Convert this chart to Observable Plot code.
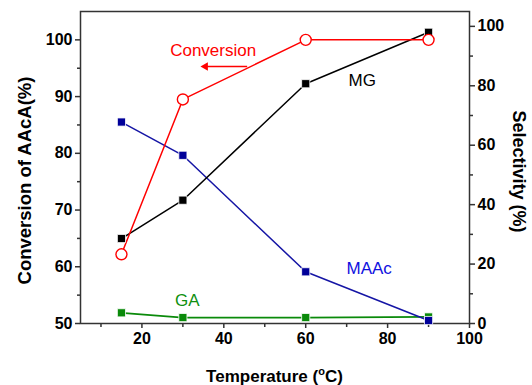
<!DOCTYPE html>
<html><head><meta charset="utf-8">
<script src="https://cdn.jsdelivr.net/npm/d3@7"></script>
<script src="https://cdn.jsdelivr.net/npm/@observablehq/plot@0.6"></script>
<style>body{margin:0;background:#fff} svg{font-family:"Liberation Sans",Arial,sans-serif}</style>
</head><body><div id="chart"></div>
<script>
const temperature = [15, 30, 60, 90];
const conversion = [62.2, 89.5, 100, 100];
const mgSel = [28.6, 41.5, 80.7, 98.0];
const maacSel = [67.8, 56.6, 17.4, 1.0];
const gaSel = [3.6, 2.0, 2.0, 2.2];
const xTicks = [20, 40, 60, 80, 100];
const xMinor = [10, 30, 50, 70, 90];
const leftTicks = [50, 60, 70, 80, 90, 100];
const leftMinor = [55, 65, 75, 85, 95];
const rightTicks = [0, 20, 40, 60, 80, 100];
const rightMinor = [10, 30, 50, 70, 90];
const labels = [
  {text: "Conversion", x: 37.4, sel: null, conv: 98.1, color: "#ff0000"},
  {text: "MG", x: 73.8, sel: 81.6, conv: null, color: "#000000"},
  {text: "MAAc", x: 75.5, sel: 18.4, conv: null, color: "#1010e0"},
  {text: "GA", x: 31.1, sel: 7.6, conv: null, color: "#109010"}
];
const arrowSeg = {x1: 45.7, x2: 35.5, conv: 95.3};

// right axis (selectivity 0..105) mapped onto left scale (50..105)
const toLeft = v => 50 + v * 55 / 105;
const fromLeft = y => (y - 50) * 105 / 55;

const rows = (vals, conv) => temperature.map((t, i) => ({t, y: conv ? vals[i] : toLeft(vals[i])}));
const convData = rows(conversion, true);
const mgData = rows(mgSel);
const maacData = rows(maacSel);
const gaData = rows(gaSel);

const chart = Plot.plot({
  width: 532, height: 385,
  marginLeft: 80, marginRight: 63, marginTop: 11, marginBottom: 62,
  x: {domain: [5, 100]},
  y: {domain: [50, 105]},
  style: {fontFamily: "Liberation Sans, Arial, sans-serif", color: "#000", background: "#fff"},
  marks: [
    Plot.axisX(xTicks, {tickSize: 5, tickPadding: 4, fontSize: 16, fontWeight: "bold", label: null, stroke: "#333", strokeWidth: 1.5}),
    Plot.axisX(xMinor, {tickSize: 4, tickFormat: () => "", label: null, stroke: "#333", strokeWidth: 1.5}),
    Plot.axisY(leftTicks, {tickSize: 5, tickPadding: 3, fontSize: 16, fontWeight: "bold", label: null, stroke: "#333", strokeWidth: 1.5}),
    Plot.axisY(leftMinor, {tickSize: 3, tickFormat: () => "", label: null, stroke: "#333", strokeWidth: 1.5}),
    Plot.axisY(rightTicks.map(toLeft), {anchor: "right", tickSize: 5, tickPadding: 3, fontSize: 16, fontWeight: "bold", label: null, tickFormat: d => String(Math.round(fromLeft(d))), stroke: "#333", strokeWidth: 1.5}),
    Plot.axisY(rightMinor.map(toLeft), {anchor: "right", tickSize: 3, tickFormat: () => "", label: null, stroke: "#333", strokeWidth: 1.5}),
    Plot.frame({stroke: "#333", strokeWidth: 1.5}),
    // series
    Plot.line(gaData, {x: "t", y: "y", stroke: "#0a8a0a", strokeWidth: 1.8}),
    Plot.line(maacData, {x: "t", y: "y", stroke: "#1515a5", strokeWidth: 1.5}),
    Plot.line(mgData, {x: "t", y: "y", stroke: "#000", strokeWidth: 1.5}),
    Plot.line(convData, {x: "t", y: "y", stroke: "#ff0000", strokeWidth: 1.5}),
    Plot.dot(gaData, {x: "t", y: "y", symbol: "square", r: 4.6, fill: "#0a8a0a", stroke: "#fff", strokeWidth: 0.8}),
    Plot.dot(maacData, {x: "t", y: "y", symbol: "square", r: 4.6, fill: "#000099", stroke: "#fff", strokeWidth: 0.8}),
    Plot.dot(mgData, {x: "t", y: "y", symbol: "square", r: 4.6, fill: "#000", stroke: "#fff", strokeWidth: 0.8}),
    Plot.dot(convData, {x: "t", y: "y", r: 5.5, fill: "#fff", stroke: "#ff0000", strokeWidth: 1.4}),
    // labels
    Plot.text(labels, {x: "x", y: d => d.conv != null ? d.conv : toLeft(d.sel), text: "text", fill: "color", fontSize: 17}),
    Plot.link([arrowSeg], {x1: "x1", x2: "x2", y1: "conv", y2: "conv", stroke: "#ff0000", strokeWidth: 1.5}),
    Plot.dot([arrowSeg], {x: "x2", y: "conv", symbol: "triangle", r: 3.2, rotate: -90, fill: "#ff0000"}),
    // axis titles
    Plot.text(["Conversion of AAcA(%)"], {frameAnchor: "left", textAnchor: "middle", dx: -55, dy: 13, rotate: -90, fontSize: 18.5, fontWeight: "bold", fill: "#000"}),
    Plot.text(["Selectivity (%)"], {frameAnchor: "right", textAnchor: "middle", dx: 49, dy: 4, rotate: 90, fontSize: 18, fontWeight: "bold", fill: "#000"})
  ]
});

// x-axis title with superscript degree
const svg = d3.select(chart);
const t = svg.append("text")
  .attr("x", (80 + 469) / 2).attr("y", 382)
  .attr("text-anchor", "middle")
  .attr("font-size", 17).attr("font-weight", "bold").attr("fill", "#000");
t.append("tspan").text("Temperature (");
t.append("tspan").attr("font-size", 11).attr("dy", -7).text("o");
t.append("tspan").attr("dy", 7).text("C)");

document.getElementById("chart").appendChild(chart);
</script>
</body></html>
